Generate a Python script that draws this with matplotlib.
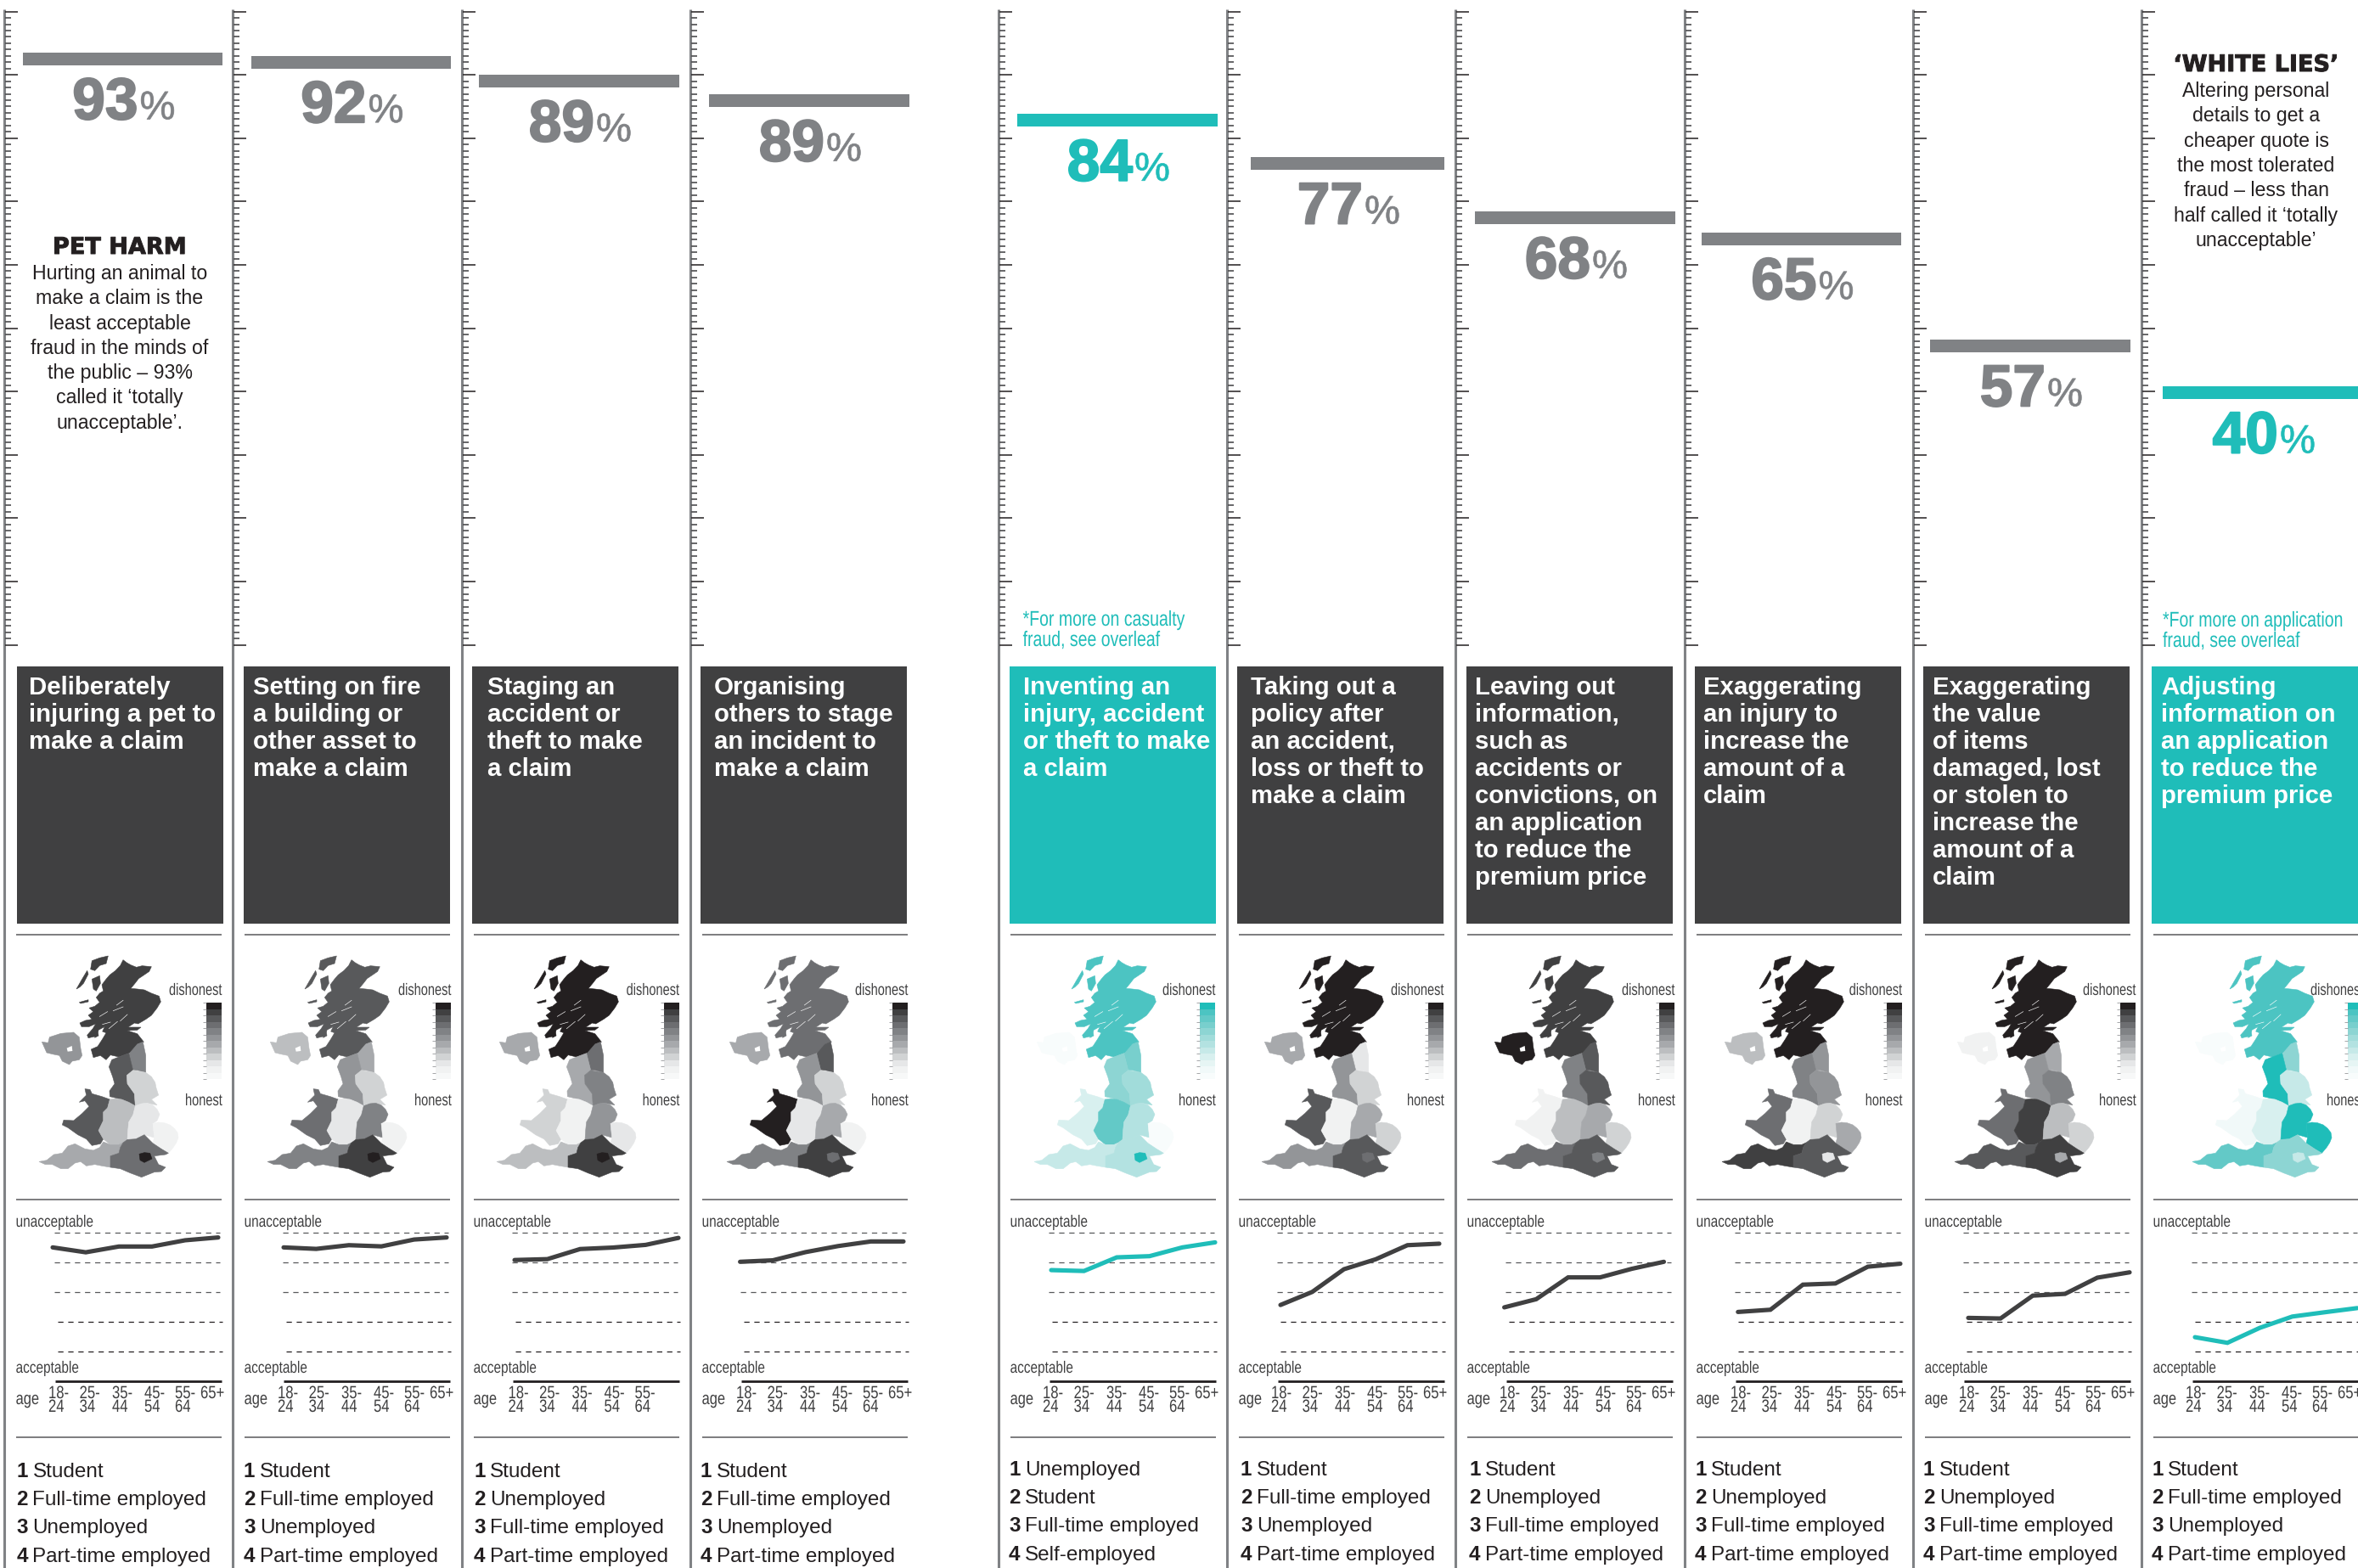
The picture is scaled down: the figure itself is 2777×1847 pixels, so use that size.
#!/usr/bin/env python3

import matplotlib
matplotlib.use('Agg')
import matplotlib.pyplot as plt
import matplotlib.patheffects as path_effects
from matplotlib.patches import Rectangle
from matplotlib.transforms import Affine2D

W, H = 2777, 1847
SANS = 'Liberation Sans'
HEAVY = 'DejaVu Sans'

DARK = '#404041'
BLACK = '#231f20'
GREY = '#808285'
TEAL = '#1fbdb9'

# --- data, one entry per column ---
pct_labels = [93, 92, 89, 89, 84, 77, 68, 65, 57, 40]
# where the bar sits on the ruler (the ruler is not quite the label in the original)
ruler_levels = [92.5, 92.0, 89.0, 85.9, 82.8, 76.0, 67.4, 64.1, 47.2, 39.8]
highlight = [False, False, False, False, True, False, False, False, False, True]

box_titles = [
    ['Deliberately', 'injuring a pet to', 'make a claim'],
    ['Setting on fire', 'a building or', 'other asset to', 'make a claim'],
    ['Staging an', 'accident or', 'theft to make', 'a claim'],
    ['Organising', 'others to stage', 'an incident to', 'make a claim'],
    ['Inventing an', 'injury, accident', 'or theft to make', 'a claim'],
    ['Taking out a', 'policy after', 'an accident,', 'loss or theft to', 'make a claim'],
    ['Leaving out', 'information,', 'such as', 'accidents or', 'convictions, on',
     'an application', 'to reduce the', 'premium price'],
    ['Exaggerating', 'an injury to', 'increase the', 'amount of a', 'claim'],
    ['Exaggerating', 'the value', 'of items', 'damaged, lost', 'or stolen to',
     'increase the', 'amount of a', 'claim'],
    ['Adjusting', 'information on', 'an application', 'to reduce the', 'premium price'],
]

age_labels = ['18-\n24', '25-\n34', '35-\n44', '45-\n54', '55-\n64', '65+']

# unacceptable (100) .. acceptable (0) by age band
age_scores = [
    [89.9, 86.6, 90.5, 90.5, 94.7, 96.6],
    [89.9, 88.9, 91.4, 90.6, 95.2, 96.6],
    [81.4, 82.0, 88.8, 89.8, 91.6, 96.3],
    [80.2, 81.2, 86.7, 90.8, 93.9, 93.9],
    [74.6, 74.0, 83.2, 84.0, 89.9, 93.3],
    [51.1, 59.9, 75.2, 81.9, 91.4, 92.4],
    [49.5, 55.0, 69.7, 69.7, 75.5, 80.2],
    [46.4, 47.9, 64.8, 65.6, 76.9, 78.9],
    [42.4, 42.0, 57.4, 58.6, 69.5, 73.1],
    [29.4, 25.6, 35.7, 43.3, 46.2, 49.0],
]

occupations = [
    ['Student', 'Full-time employed', 'Unemployed', 'Part-time employed'],
    ['Student', 'Full-time employed', 'Unemployed', 'Part-time employed'],
    ['Student', 'Unemployed', 'Full-time employed', 'Part-time employed'],
    ['Student', 'Full-time employed', 'Unemployed', 'Part-time employed'],
    ['Unemployed', 'Student', 'Full-time employed', 'Self-employed'],
    ['Student', 'Full-time employed', 'Unemployed', 'Part-time employed'],
    ['Student', 'Unemployed', 'Full-time employed', 'Part-time employed'],
    ['Student', 'Unemployed', 'Full-time employed', 'Part-time employed'],
    ['Student', 'Unemployed', 'Full-time employed', 'Part-time employed'],
    ['Student', 'Full-time employed', 'Unemployed', 'Part-time employed'],
]

# shade step of each region, 0 = most dishonest, 11 = most honest
regions = ['Scotland', 'NI', 'NE', 'NW', 'Yorks', 'Wales', 'WMid', 'EMid', 'East', 'SW', 'SE', 'London']
region_shades = [
    [1, 5, 4, 2, 8, 2, 7, 9, 10, 6, 3, 0],
    [2, 7, 6, 5, 8, 3, 9, 4, 10, 4, 1, 0],
    [0, 6, 3, 6, 4, 8, 10, 5, 9, 7, 1, 0],
    [3, 6, 2, 5, 8, 0, 9, 6, 10, 4, 1, 3],
    [1, 11, 3, 4, 5, 8, 2, 6, 11, 7, 6, 0],
    [0, 6, 9, 5, 8, 2, 10, 6, 8, 5, 2, 3],
    [1, 0, 2, 4, 2, 10, 7, 6, 8, 3, 2, 4],
    [0, 7, 5, 4, 5, 3, 10, 8, 6, 1, 2, 9],
    [0, 10, 6, 5, 4, 3, 1, 7, 8, 2, 1, 6],
    [1, 11, 4, 0, 7, 10, 8, 0, 0, 2, 4, 7],
]

grey_ramp = ['#231f20', '#404041', '#58595b', '#6d6e71', '#808285', '#939598',
             '#a7a9ac', '#bcbec0', '#d1d3d4', '#e6e7e8', '#f1f2f2', '#f7f8f8']
teal_ramp = ['#1fbdb9', '#4cc4c2', '#63c9c7', '#78cfcd', '#8dd5d3', '#a1dcda',
             '#b3e2e1', '#c6e9e8', '#d8f0ef', '#e6f5f4', '#f1f9f9', '#f8fcfc']

# --- layout, pixels ---
rule_x = [5, 274, 544, 813, 1176, 1445, 1714, 1984, 2253, 2522]
bar_left = [21, 21, 19, 21, 21, 27, 22, 19, 19, 24]
bar_width = [235, 235, 236, 236, 236, 228, 236, 235, 236, 236]
box_left = [15, 13, 12, 12, 13, 12, 13, 12, 12, 12]
title_left = [28.6, 23.5, 30, 28, 28.6, 28, 23, 22, 23, 23]
list_left = [14.5, 13, 14, 12, 12, 16, 16, 12, 12, 12]
line_x0 = [57, 60, 62, 58.6, 62, 63, 57.6, 62.8, 65, 63]
line_x1 = [252, 252, 255, 251, 255, 250, 245.5, 254, 255, 254]
map_shift = [0, 0, 0, 2, 1, 0, 2, 3, 8, 19]
key_right = [256, 257, 255.6, 256, 255, 255, 258, 255.7, 262, 261]
age_shift = [0, 1, 2.5, 2, 0, 0, 0, 2, 2, 0]
age_left = [52, 88.6, 127, 165, 201, 231]

# region outlines, x right / y down
map_shapes = {
    'Scotland': [(345, 62), (358, 72), (372, 80), (392, 88), (412, 83), (445, 86), (437, 103), (418, 116),
                 (400, 128), (386, 146), (372, 163), (395, 165), (420, 168), (445, 180), (472, 190), (478, 210),
                 (465, 232), (445, 258), (425, 272), (398, 288), (385, 285), (362, 300), (408, 300), (395, 310),
                 (360, 312), (395, 323), (418, 352), (395, 360), (395, 380), (365, 392), (330, 405), (300, 398),
                 (285, 415), (265, 400), (240, 407), (232, 378), (255, 368), (272, 342), (285, 320), (272, 315),
                 (280, 298), (258, 310), (248, 332), (222, 338), (218, 328), (238, 305), (248, 288), (225, 298),
                 (198, 298), (192, 285), (212, 276), (235, 272), (222, 258), (240, 245), (225, 232), (245, 226),
                 (262, 212), (250, 195), (262, 180), (275, 172), (270, 150), (285, 130), (298, 115), (318, 100),
                 (335, 82)],
    'Lewis': [(235, 65), (262, 55), (292, 48), (285, 75), (262, 82), (245, 100), (230, 95)],
    'Uist': [(180, 165), (200, 130), (218, 100), (222, 112), (205, 145), (192, 158)],
    'Skye': [(235, 130), (262, 118), (265, 145), (250, 172), (240, 165)],
    'Mull': [(190, 212), (222, 203), (222, 210), (195, 216)],
    'Arran': [(245, 315), (255, 308), (258, 330), (245, 337)],
    'NI': [(58, 352), (80, 355), (85, 335), (125, 322), (170, 318), (190, 335), (195, 375), (200, 400),
           (190, 415), (165, 420), (155, 432), (130, 420), (120, 400), (95, 395), (75, 390)],
    'NE': [(395, 360), (415, 352), (425, 400), (425, 460), (395, 452), (380, 452), (365, 395)],
    'NW': [(365, 392), (380, 452), (358, 470), (360, 500), (385, 535), (388, 578), (340, 555), (298, 545),
           (297, 525), (315, 500), (308, 475), (295, 440), (305, 415), (330, 405)],
    'Yorks': [(358, 470), (380, 452), (425, 460), (445, 475), (458, 495), (462, 515), (470, 540), (445, 555),
              (465, 575), (430, 568), (410, 570), (388, 578), (385, 535), (360, 500)],
    'Wales': [(210, 518), (228, 520), (235, 535), (270, 545), (298, 555), (290, 585), (275, 600), (275, 630),
              (258, 665), (275, 695), (265, 712), (235, 718), (215, 695), (185, 680), (150, 655), (130, 645),
              (135, 628), (170, 630), (200, 605), (225, 580), (210, 560), (190, 565), (215, 540)],
    'WMid': [(298, 555), (320, 553), (340, 555), (365, 565), (388, 578), (380, 610), (365, 635), (362, 665),
             (360, 697), (345, 708), (330, 715), (300, 715), (275, 695), (258, 665), (275, 630), (275, 600),
             (290, 585)],
    'EMid': [(388, 578), (410, 570), (430, 568), (450, 575), (465, 590), (474, 608), (465, 630), (450, 640),
             (455, 690), (420, 680), (390, 695), (360, 697), (362, 665), (365, 635), (380, 610)],
    'East': [(450, 640), (470, 636), (490, 638), (510, 645), (525, 657), (537, 672), (540, 690), (533, 708),
             (522, 725), (505, 745), (480, 730), (450, 710), (455, 690)],
    'SE': [(360, 697), (390, 695), (420, 680), (450, 710), (480, 730), (505, 745), (495, 750), (455, 755),
           (470, 785), (495, 795), (480, 810), (455, 812), (410, 830), (370, 815), (335, 800), (300, 795),
           (300, 755), (330, 745), (335, 725), (345, 708)],
    'London': [(402, 748), (420, 743), (440, 745), (447, 765), (420, 778), (405, 770)],
    'SW': [(275, 705), (300, 715), (330, 715), (345, 708), (335, 725), (330, 745), (300, 755), (300, 795), (270, 790),
           (245, 785), (215, 790), (195, 775), (175, 780), (150, 800), (125, 800), (95, 785), (70, 785),
           (48, 775), (75, 770), (100, 750), (130, 745), (150, 720), (175, 712), (210, 730), (240, 735),
           (262, 725)],
}
scotland_parts = ['Scotland', 'Lewis', 'Uist', 'Skye', 'Mull', 'Arran']
lochs = [[(345, 228), (310, 242)], [(345, 205), (322, 222)], [(300, 282), (272, 290)], [(325, 280), (295, 305)],
         [(360, 255), (335, 278)], [(290, 245), (262, 262)]]
ni_hole = [(146, 374), (164, 366), (166, 384), (149, 386)]


class Squeeze(path_effects.AbstractPathEffect):
    # the condensed and heavy cuts are not installed: squeeze and fatten the glyphs of the real text
    def __init__(self, sx=1.0, stroke=0.0):
        super().__init__()
        self.sx = sx
        self.stroke = stroke

    def draw_path(self, renderer, gc, tpath, affine, rgbFace=None):
        if self.stroke:
            gc.set_foreground(rgbFace)
            gc.set_linewidth(self.stroke)
        renderer.draw_path(gc, tpath, Affine2D().scale(self.sx, 1) + affine, rgbFace)


fig = plt.figure(figsize=(W / 100, H / 100), dpi=100, facecolor='white')
page = fig.add_axes([0, 0, 1, 1])
page.set_xlim(0, W)
page.set_ylim(H, 0)
page.axis('off')


def px_axes(x0, y0, x1, y1):
    ax = fig.add_axes([x0 / W, 1 - y1 / H, (x1 - x0) / W, (y1 - y0) / H])
    ax.patch.set_alpha(0)
    return ax


def narrow(x, y, s, size=14, sx=0.79, color=DARK):
    page.text(x, y, s, fontsize=size, color=color, family=SANS, va='baseline',
              path_effects=[Squeeze(sx)])


def draw_ruler(i):
    # ruler runs 0..100 from y=760 to y=13.6
    x = rule_x[i]
    page.plot([x, x], [11, H], color=GREY, lw=2.2, solid_capstyle='butt')
    ax = px_axes(x + 1, 13.6, x + 291, 759.6)
    ax.set_xlim(0, 290)
    ax.set_ylim(0, 100)
    for s in ax.spines.values():
        s.set_visible(False)
    ax.set_xticks([])
    ax.set_yticks(range(0, 101, 10))
    ax.set_yticks(range(0, 101), minor=True)
    ax.tick_params(axis='y', which='major', direction='in', length=10.5, width=1.1, color=BLACK, labelleft=False)
    ax.tick_params(axis='y', which='minor', direction='in', length=5.3, width=1.2, color='#4d4d4f')
    col = TEAL if highlight[i] else GREY
    ax.barh(ruler_levels[i], bar_width[i], height=2.0, left=bar_left[i], color=col, clip_on=False)
    mid = bar_left[i] + bar_width[i] / 2 + 18
    ax.text(mid, ruler_levels[i] - 9.5, str(pct_labels[i]), ha='right', va='baseline', color=col,
            fontsize=50, fontweight='bold', family=SANS, path_effects=[Squeeze(1.0, stroke=1.4)])
    ax.text(mid + 2, ruler_levels[i] - 9.5, '%', ha='left', va='baseline', color=col, fontsize=34, family=SANS,
            path_effects=[Squeeze(1.0, stroke=0.5)])


def draw_box(i):
    x = rule_x[i]
    col = TEAL if highlight[i] else DARK
    page.add_patch(Rectangle((x + box_left[i], 785), 243, 303, color=col, lw=0))
    for k, line in enumerate(box_titles[i]):
        page.text(x + title_left[i], 818 + k * 32, line, color='white', fontsize=21.2, fontweight='bold',
                  family=SANS, va='baseline')


def draw_map(i):
    x = rule_x[i] + 25 + map_shift[i]
    ax = px_axes(x, 1110, x + 210, 1395)
    ax.set_xlim(0, 630)
    ax.set_ylim(855, 0)
    ax.axis('off')
    ramp = teal_ramp if highlight[i] else grey_ramp
    for name, step in zip(regions, region_shades[i]):
        parts = scotland_parts if name == 'Scotland' else [name]
        for part in parts:
            xs, ys = zip(*map_shapes[part])
            ax.fill(xs, ys, color=ramp[step], lw=0.4)
    xs, ys = zip(*ni_hole)
    ax.fill(xs, ys, color='white', lw=0)
    for loch in lochs:
        xs, ys = zip(*loch)
        ax.plot(xs, ys, color='white', lw=0.45)

    # shade key
    r = rule_x[i] + key_right[i]
    key = px_axes(r - 18, 1181, r, 1271)
    key.barh(range(12), 1, height=1, color=ramp)
    key.set_xlim(0, 1)
    key.set_ylim(11.5, -0.5)
    key.set_xticks([])
    key.set_yticks([k - 0.5 for k in range(13)])
    key.tick_params(axis='y', length=3, width=0.5, color=GREY, labelleft=False)
    for s in key.spines.values():
        s.set_visible(False)
    narrow(r - 62, 1172, 'dishonest', sx=0.75)
    narrow(r - 43, 1302, 'honest', sx=0.75)


def draw_ages(i):
    x = rule_x[i]
    for y in [1451.7, 1486.7, 1521.7]:
        page.plot([x + 59, x + 254], [y, y], color='#58595b', lw=0.9, ls=(0, (5, 4.5)))
    for y in [1556.5, 1591.5]:
        page.plot([x + 63, x + 257], [y, y], color=BLACK, lw=0.9, ls=(0, (5, 4.5)))
    page.plot([x + 60, x + 256], [1626.5, 1626.5], color=BLACK, lw=2, solid_capstyle='butt')

    ax = px_axes(x + line_x0[i], 1451.7, x + line_x1[i], 1626.5)
    ax.set_xlim(0, 5)
    ax.set_ylim(0, 100)
    ax.axis('off')
    ax.plot(range(6), age_scores[i], color=TEAL if highlight[i] else DARK, lw=3.7,
            solid_capstyle='round', solid_joinstyle='miter', clip_on=False)

    narrow(x + 13.6, 1445, 'unacceptable')
    narrow(x + 13.6, 1617, 'acceptable')
    narrow(x + 13.6, 1654, 'age', size=15)
    labels = age_labels[:5] if i == 2 else age_labels  # 65+ is missing from this panel in the original
    for lab, off in zip(labels, age_left):
        for k, part in enumerate(lab.split('\n')):
            narrow(x + off + age_shift[i], 1647 + k * 16, part, size=15, sx=0.8)


def draw_rules(i):
    x = rule_x[i]
    for y in [1101, 1413, 1693]:
        page.plot([x + 14, x + 256], [y, y], color='#58595b', lw=1.1, solid_capstyle='butt')


def draw_list(i):
    x = rule_x[i] + list_left[i]
    base = 1740 if i < 4 else 1738
    for k, name in enumerate(occupations[i]):
        y = base + k * 33.2
        page.text(x, y, str(k + 1), fontsize=17.5, fontweight='bold', color=BLACK, family=SANS, va='baseline')
        page.text(x + 19, y, name, fontsize=17.5, color=BLACK, family=SANS, va='baseline')


for i in range(len(pct_labels)):
    draw_ruler(i)
    draw_box(i)
    draw_map(i)
    draw_ages(i)
    draw_rules(i)
    draw_list(i)

# notes in the two end panels
heavy = [Squeeze(1.0, stroke=0.7)]
page.text(141, 299, 'PET HARM', ha='center', va='baseline', fontsize=19.5, fontweight='bold', color=BLACK,
          family=HEAVY, path_effects=heavy)
pet_lines = ['Hurting an animal to', 'make a claim is the', 'least acceptable', 'fraud in the minds of',
             'the public \u2013 93%', 'called it \u2018totally', 'unacceptable\u2019.']
for k, line in enumerate(pet_lines):
    page.text(141, 329 + k * 29.3, line, ha='center', va='baseline', fontsize=16.7, color=BLACK, family=SANS)

page.text(2657, 84, '\u2018WHITE LIES\u2019', ha='center', va='baseline', fontsize=19.5, fontweight='bold',
          color=BLACK, family=HEAVY, path_effects=heavy)
lies_lines = ['Altering personal', 'details to get a', 'cheaper quote is', 'the most tolerated', 'fraud \u2013 less than',
              'half called it \u2018totally', 'unacceptable\u2019']
for k, line in enumerate(lies_lines):
    page.text(2657, 114 + k * 29.3, line, ha='center', va='baseline', fontsize=16.7, color=BLACK, family=SANS)

narrow(1204.6, 737, '*For more on casualty', size=18, sx=0.78, color=TEAL)
narrow(1204.6, 761, 'fraud, see overleaf', size=18, sx=0.78, color=TEAL)
narrow(2547, 738, '*For more on application', size=18, sx=0.78, color=TEAL)
narrow(2547, 762, 'fraud, see overleaf', size=18, sx=0.78, color=TEAL)

fig.savefig('out.png', dpi=100)
